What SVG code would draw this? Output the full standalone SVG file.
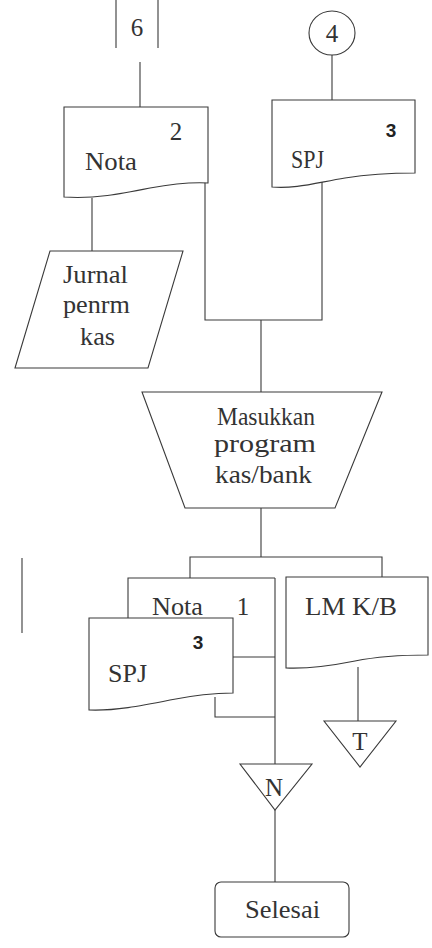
<svg xmlns="http://www.w3.org/2000/svg" width="432" height="948" viewBox="0 0 432 948">
<style>
.s{fill:#fff;stroke:#3a3a3a;stroke-width:1.1}
.c{fill:none;stroke:#3a3a3a;stroke-width:1.1}
.t{font-family:"Liberation Serif","Times New Roman",serif;font-size:25px;fill:#333}
.b{font-family:"Liberation Sans",Arial,sans-serif;font-size:19px;font-weight:bold;fill:#222}
</style>
<rect width="432" height="948" fill="#fff"/>
<g id="connectors">
<path class="c" d="M140,62 V107"/>
<path class="c" d="M332,55 V100"/>
<path class="c" d="M92,198 V251"/>
<path class="c" d="M205,181 V320 H322 V182"/>
<path class="c" d="M261,320 V392"/>
<path class="c" d="M261,508 V557"/>
<path class="c" d="M190,578 V557 H382 V577"/>
<path class="c" d="M275,578 V764"/>
<path class="c" d="M233,657 H275"/>
<path class="c" d="M215,697 V717 H275"/>
<path class="c" d="M358,667 V721"/>
<path class="c" d="M275,810 V882"/>
<path class="c" d="M22,558 V633"/>
</g>
<g id="conn6">
<path class="c" d="M116,0 V48 M158,0 V48"/>
<text class="t" x="137" y="36" text-anchor="middle" font-size="23">6</text>
</g>
<g id="conn4">
<ellipse class="s" cx="332" cy="33" rx="23" ry="22"/>
<text class="t" x="332" y="42" text-anchor="middle">4</text>
</g>
<g id="nota2">
<path class="s" d="M64,107 H208 V183 C190,182 172,184 150,188 C120,194 95,199 64,197 Z"/>
<text class="t" x="85" y="170" textLength="52" lengthAdjust="spacingAndGlyphs">Nota</text>
<text class="t" x="176" y="140" text-anchor="middle">2</text>
</g>
<g id="spj-top">
<path class="s" d="M272,100 H415 V173 C395,173 370,174 345,178 C315,183 295,189 272,187 Z"/>
<text class="t" x="291" y="168" textLength="33" lengthAdjust="spacingAndGlyphs">SPJ</text>
<text class="b" x="391" y="137" text-anchor="middle">3</text>
</g>
<g id="jurnal">
<path class="s" d="M50,251 H183 L148,368 H15 Z"/>
<text class="t" x="63" y="283" textLength="65" lengthAdjust="spacingAndGlyphs">Jurnal</text>
<text class="t" x="63" y="313" textLength="67" lengthAdjust="spacingAndGlyphs">penrm</text>
<text class="t" x="80" y="345" textLength="35" lengthAdjust="spacingAndGlyphs">kas</text>
</g>
<g id="masukkan">
<path class="s" d="M142,392 H382 L335,508 H185 Z"/>
<text class="t" x="217" y="425" textLength="98" lengthAdjust="spacingAndGlyphs">Masukkan</text>
<text class="t" x="214" y="452" textLength="102" lengthAdjust="spacingAndGlyphs">program</text>
<text class="t" x="215" y="483" textLength="97" lengthAdjust="spacingAndGlyphs">kas/bank</text>
</g>
<g id="nota1">
<path class="c" d="M128,618 V578 H275"/>
<text class="t" x="152" y="615" textLength="51" lengthAdjust="spacingAndGlyphs">Nota</text>
<text class="t" x="243" y="615" text-anchor="middle">1</text>
</g>
<g id="spj-low">
<path class="s" d="M89,618 H233 V693 C215,693 195,695 170,700 C140,706 115,711 89,710 Z"/>
<text class="t" x="108" y="682" textLength="39" lengthAdjust="spacingAndGlyphs">SPJ</text>
<text class="b" x="198" y="649" text-anchor="middle">3</text>
</g>
<g id="lmkb">
<path class="s" d="M286,577 H428 V655 C405,655 380,656 355,661 C330,666 308,669 286,668 Z"/>
<text class="t" x="305" y="615" textLength="92" lengthAdjust="spacingAndGlyphs">LM K/B</text>
</g>
<g id="tri-t">
<path class="s" d="M324,721 H396 L360,767 Z"/>
<text class="t" x="360" y="750" text-anchor="middle">T</text>
</g>
<g id="tri-n">
<path class="s" d="M240,764 H312 L275,810 Z"/>
<text class="t" x="274" y="796" text-anchor="middle" font-size="27">N</text>
</g>
<g id="selesai">
<rect class="s" x="215" y="882" width="134" height="55" rx="6"/>
<text class="t" x="245" y="918" textLength="75" lengthAdjust="spacingAndGlyphs">Selesai</text>
</g>
</svg>
